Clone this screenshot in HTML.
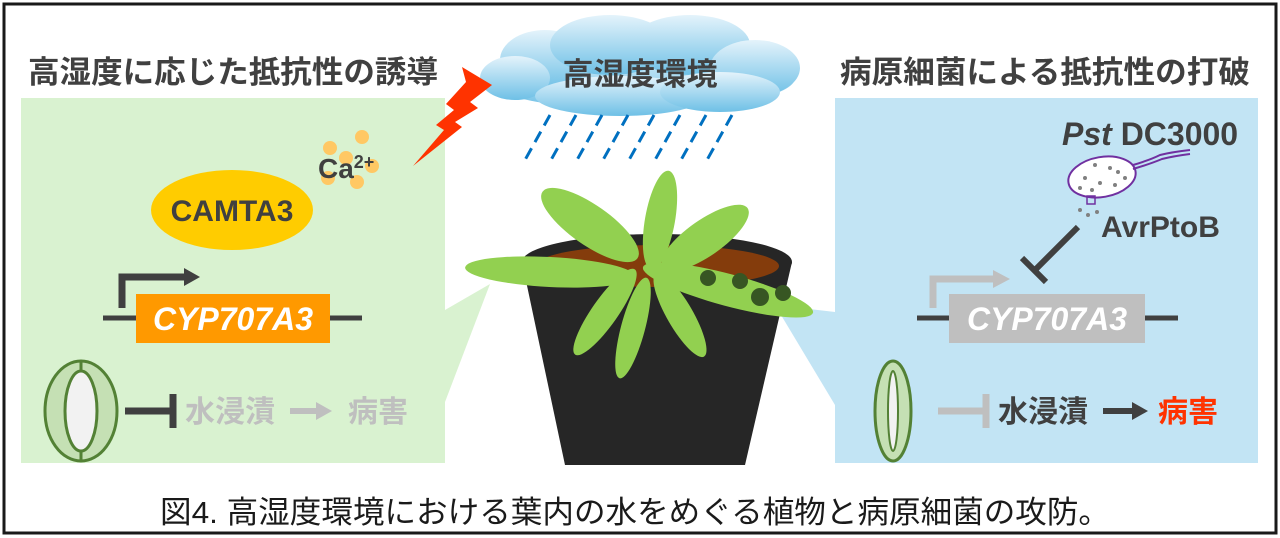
<!DOCTYPE html>
<html><head><meta charset="utf-8"><style>
html,body{margin:0;padding:0;background:#fff;}
svg{display:block;}
text{font-family:"Liberation Sans","Noto Sans CJK JP",sans-serif;}
</style></head><body>
<svg width="1280" height="538" viewBox="0 0 1280 538" xmlns="http://www.w3.org/2000/svg">
<defs>
<linearGradient id="cg" x1="0" y1="0" x2="0" y2="1">
<stop offset="0" stop-color="#e4f3fb"/><stop offset="1" stop-color="#6ec0e6"/>
</linearGradient>
</defs>
<rect x="0" y="0" width="1280" height="538" fill="#fff"/>
<rect x="4" y="4" width="1272" height="529" fill="none" stroke="#1a1a1a" stroke-width="3"/>

<!-- panels -->
<rect x="21" y="98" width="424" height="365" fill="#d9f2d0"/>
<rect x="835" y="98" width="423" height="365" fill="#c2e4f4"/>
<polygon points="445,310 490,284 445,402" fill="#d9f2d0"/>
<polygon points="835,312 775,305 835,405" fill="#c2e4f4"/>

<!-- titles -->
<text x="28" y="83" font-size="31" font-weight="bold" fill="#404040" textLength="410" lengthAdjust="spacingAndGlyphs">高湿度に応じた抵抗性の誘導</text>
<text x="840" y="83" font-size="31" font-weight="bold" fill="#404040" textLength="410" lengthAdjust="spacingAndGlyphs">病原細菌による抵抗性の打破</text>

<!-- cloud -->
<g fill="url(#cg)">
<ellipse cx="640" cy="78" rx="155" ry="32"/>
<ellipse cx="545" cy="60" rx="45" ry="30"/>
<ellipse cx="610" cy="45" rx="60" ry="30"/>
<ellipse cx="690" cy="45" rx="60" ry="30"/>
<ellipse cx="755" cy="68" rx="45" ry="28"/>
<ellipse cx="515" cy="78" rx="35" ry="22"/>
<ellipse cx="620" cy="96" rx="85" ry="20"/>
<ellipse cx="720" cy="92" rx="60" ry="20"/>
</g>
<text x="640" y="85" font-size="31" font-weight="bold" fill="#404040" text-anchor="middle">高湿度環境</text>

<!-- rain -->
<g stroke="#0070c0" stroke-width="3" stroke-dasharray="12,7">
<line x1="550" y1="115" x2="525" y2="160"/>
<line x1="576" y1="115" x2="551" y2="160"/>
<line x1="602" y1="115" x2="577" y2="160"/>
<line x1="628" y1="115" x2="603" y2="160"/>
<line x1="654" y1="115" x2="629" y2="160"/>
<line x1="680" y1="115" x2="655" y2="160"/>
<line x1="706" y1="115" x2="681" y2="160"/>
<line x1="732" y1="115" x2="707" y2="160"/>
</g>

<!-- lightning -->
<polygon points="462,105 492,123 470,140 478,146 455,160 462,165 413,204 444,168 436,163 454,148 446,142 466,120" fill="#ff3300" transform="translate(0,-38)"/>

<!-- Ca -->
<g fill="#ffc864">
<circle cx="330" cy="148" r="7"/><circle cx="362" cy="137" r="7"/>
<circle cx="346" cy="158" r="7"/><circle cx="372" cy="166" r="7"/>
<circle cx="328" cy="178" r="7"/><circle cx="357" cy="182" r="7"/>
</g>
<text x="318" y="178" font-size="28" font-weight="bold" fill="#404040">Ca<tspan font-size="18" dy="-10">2+</tspan></text>

<!-- CAMTA3 -->
<ellipse cx="232" cy="210" rx="81" ry="40" fill="#ffcc00"/>
<text x="232" y="221" font-size="30" font-weight="bold" fill="#404040" text-anchor="middle">CAMTA3</text>

<!-- left gene -->
<path d="M122,308 V277 H188" fill="none" stroke="#404040" stroke-width="7"/>
<polygon points="184,268 200,277 184,286" fill="#404040"/>
<line x1="103" y1="318" x2="136" y2="318" stroke="#404040" stroke-width="5"/>
<line x1="330" y1="318" x2="362" y2="318" stroke="#404040" stroke-width="5"/>
<rect x="136" y="294" width="194" height="49" fill="#ff9900"/>
<text x="233" y="330" font-size="32" font-weight="bold" font-style="italic" fill="#fff" text-anchor="middle">CYP707A3</text>

<!-- left stomata -->
<ellipse cx="81" cy="411" rx="36" ry="50" fill="#c5e0b4" stroke="#538135" stroke-width="3"/>
<ellipse cx="81" cy="411" rx="16" ry="40" fill="#f2f2f2" stroke="#538135" stroke-width="3"/>
<line x1="81" y1="361" x2="81" y2="371" stroke="#538135" stroke-width="3"/>
<line x1="81" y1="451" x2="81" y2="461" stroke="#538135" stroke-width="3"/>
<line x1="125" y1="411" x2="173" y2="411" stroke="#404040" stroke-width="7"/>
<line x1="173" y1="394" x2="173" y2="428" stroke="#404040" stroke-width="7"/>
<text x="185" y="422" font-size="30" font-weight="bold" fill="#bfbfbf">水浸漬</text>
<line x1="290" y1="411" x2="318" y2="411" stroke="#bfbfbf" stroke-width="6"/>
<polygon points="316,402 332,411 316,420" fill="#bfbfbf"/>
<text x="348" y="422" font-size="30" font-weight="bold" fill="#bfbfbf">病害</text>

<!-- plant -->
<polygon points="522,262 792,262 745,465 565,465" fill="#262626"/>
<ellipse cx="657" cy="262" rx="135" ry="28" fill="#262626"/>
<ellipse cx="657" cy="266" rx="122" ry="21" fill="#843c0c"/>
<g fill="#92d050">
<ellipse cx="590" cy="225" rx="58" ry="20" transform="rotate(35 590 225)"/>
<ellipse cx="660" cy="220" rx="50" ry="15" transform="rotate(-80 660 220)"/>
<ellipse cx="705" cy="238" rx="52" ry="18" transform="rotate(-35 705 238)"/>
<ellipse cx="550" cy="272" rx="85" ry="15" transform="rotate(3 550 272)"/>
<ellipse cx="605" cy="312" rx="52" ry="13" transform="rotate(-55 605 312)"/>
<ellipse cx="633" cy="328" rx="52" ry="12" transform="rotate(-75 633 328)"/>
<ellipse cx="680" cy="315" rx="48" ry="13" transform="rotate(-120 680 315)"/>
<ellipse cx="728" cy="290" rx="88" ry="16" transform="rotate(15 728 290)"/>
</g>
<g fill="#375623">
<circle cx="708" cy="278" r="8"/><circle cx="740" cy="281" r="8"/>
<circle cx="760" cy="297" r="9"/><circle cx="783" cy="293" r="8"/>
</g>

<!-- bacterium -->
<text x="1062" y="145" font-size="32" font-weight="bold" fill="#404040"><tspan font-style="italic">Pst</tspan> DC3000</text>
<ellipse cx="1102" cy="177" rx="34" ry="20" fill="#fff" stroke="#7030a0" stroke-width="2" transform="rotate(-10 1102 177)"/>
<path d="M1133,165 Q1150,160 1160,155 Q1172,152 1190,150 M1133,169 Q1150,164 1162,159 Q1174,156 1190,154" fill="none" stroke="#7030a0" stroke-width="2"/>
<g fill="#808080">
<circle cx="1095" cy="165" r="2"/><circle cx="1110" cy="168" r="2"/><circle cx="1085" cy="178" r="2"/>
<circle cx="1100" cy="183" r="2"/><circle cx="1115" cy="185" r="2"/><circle cx="1125" cy="178" r="2"/>
<circle cx="1080" cy="188" r="2"/><circle cx="1092" cy="190" r="2"/><circle cx="1118" cy="172" r="2"/>
<circle cx="1080" cy="210" r="2"/><circle cx="1088" cy="215" r="2"/><circle cx="1097" cy="212" r="2"/>
</g>
<rect x="1087" y="196" width="8" height="8" fill="none" stroke="#7030a0" stroke-width="1.5"/>
<text x="1101" y="237" font-size="30" font-weight="bold" fill="#404040">AvrPtoB</text>
<line x1="1078" y1="227" x2="1035" y2="270" stroke="#404040" stroke-width="6"/>
<line x1="1022" y1="258" x2="1046" y2="282" stroke="#404040" stroke-width="6"/>

<!-- right gene -->
<path d="M933,308 V279 H997" fill="none" stroke="#bfbfbf" stroke-width="7"/>
<polygon points="993,270 1010,279 993,288" fill="#bfbfbf"/>
<line x1="917" y1="318" x2="950" y2="318" stroke="#404040" stroke-width="5"/>
<line x1="1145" y1="318" x2="1178" y2="318" stroke="#404040" stroke-width="5"/>
<rect x="949" y="294" width="196" height="49" fill="#bfbfbf"/>
<text x="1047" y="330" font-size="32" font-weight="bold" font-style="italic" fill="#fff" text-anchor="middle">CYP707A3</text>

<!-- right stomata -->
<ellipse cx="893" cy="411" rx="18" ry="50" fill="#c5e0b4" stroke="#538135" stroke-width="3"/>
<ellipse cx="893" cy="411" rx="5" ry="40" fill="#f2f2f2" stroke="#538135" stroke-width="2"/>
<line x1="938" y1="411" x2="986" y2="411" stroke="#bfbfbf" stroke-width="7"/>
<line x1="986" y1="394" x2="986" y2="428" stroke="#bfbfbf" stroke-width="7"/>
<text x="998" y="422" font-size="30" font-weight="bold" fill="#404040">水浸漬</text>
<line x1="1103" y1="411" x2="1134" y2="411" stroke="#404040" stroke-width="6"/>
<polygon points="1132,402 1148,411 1132,420" fill="#404040"/>
<text x="1158" y="422" font-size="30" font-weight="bold" fill="#ff3300">病害</text>

<!-- caption -->
<text x="160" y="523" font-size="31" fill="#1a1a1a" textLength="950" lengthAdjust="spacingAndGlyphs">図4. 高湿度環境における葉内の水をめぐる植物と病原細菌の攻防。</text>
</svg>
</body></html>
